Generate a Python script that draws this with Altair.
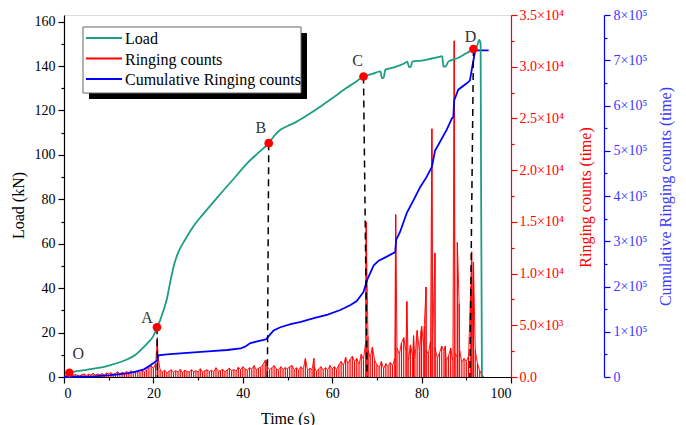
import altair as alt
import pandas as pd

FONT = "Liberation Serif"
TEAL = "#1b9e82"
RED = "#ff0000"
BLUE = "#0000ff"

# ---- Load curve (kN) ----
load_t = [1.2, 3, 5, 7, 9, 10.5, 12, 14.2, 16, 17.2, 19, 20, 20.8, 21.5, 22, 22.5, 23, 23.5, 24, 24.5,
          25, 25.5, 26, 27, 28, 29, 31,
          33.5, 35.8, 38.5, 41, 43.5, 45.8, 47, 48.4, 50, 51.4, 54.5, 57.4, 60, 63.3, 65, 67, 69, 70.8,
          71.1, 71.5, 71.9, 74, 76.3, 76.8, 77.2, 77.6, 77.9, 80, 82, 84.2, 84.6, 84.9, 85.3, 86, 88,
          90.1, 91.6, 92.4, 92.9, 93.2, 93.3, 93.5]
load_v = [1.9, 2.6, 3.2, 3.9, 4.6, 5.4, 6.3, 8.0, 10.0, 12.2, 15.9, 18.5, 22.4, 25.5, 28.5, 31.5, 35, 40,
          45, 49.5, 53, 55.8, 58, 61.5, 64.8, 68, 73,
          79, 84.3, 90.5, 96.3, 101, 105.3, 108.5, 111.3, 113, 114.3, 118, 121.8, 125.5, 130.3,
          132.5, 135.3, 136.5, 137.6, 134.6, 134.8, 138.4, 139.5, 141.4, 142, 139.5, 139.8, 142, 142.5,
          143.3, 144.3, 144.5, 139.8, 139.8, 142, 143.5, 145.9, 147.7, 149, 151.8, 150, 90, 0]

# ---- Cumulative ringing counts ----
cum_t = [0, 3, 6.8, 10.5, 14.2, 16, 17.9, 19.4, 20.5, 20.9, 21.1, 23, 26, 29.1, 33, 36.5, 39.5, 40.5,
         41.7, 43, 44.7, 45.3, 45.6, 46.9, 48.4, 50.7, 53, 55.9, 59, 61.8, 64.1, 65.5, 67, 67.8, 69.3,
         70.4, 72, 74.1, 74.3, 75.2, 76.7, 78.2, 79.7, 81, 82.3, 83, 85.6, 86.8, 87.1, 87.3, 88.2, 90.1,
         90.8, 91.2, 91.6, 92, 95]
cum_v = [0, 500, 1500, 4000, 8200, 12000, 17000, 26500, 34000, 37500, 48000, 50000, 52000, 54500, 57000,
         59700, 63000, 67000, 75000, 78000, 82000, 84000, 88000, 103000, 110000, 117000, 122000, 130000,
         138000, 148000, 159000, 168000, 188000, 214000, 247000, 257000, 265000, 276000, 303000, 321000,
         363000, 391000, 420000, 440000, 464000, 500000, 546000, 572000, 575000, 612000, 635000, 649000,
         655000, 678000, 700000, 722000, 722000]

# ---- Ringing counts: background every 0.5 s from 0 to 94 s ----
ring_bg = [0, 150, 100, 200, 120, 250, 180, 100, 220, 300, 150, 260, 200, 350, 180, 280, 240, 320, 200, 380,
           300, 420, 260, 350, 500, 300, 450, 380, 520, 400, 600, 350, 480, 550, 420, 650, 500, 700, 900, 1100,
           800, 1300, 2000, 700, 500, 650, 400, 550, 700, 450, 600, 500, 750, 400, 650, 550, 480, 700, 520, 600,
           500, 800, 450, 600, 700, 520, 650, 480, 900, 550, 620, 750, 500, 680, 850, 600, 720, 550, 950, 700,
           1000, 800, 650, 900, 750, 1100, 700, 850, 950, 1200, 1600, 1000, 700, 900, 1100, 800, 650, 1000, 750, 900,
           800, 1000, 1100, 700, 900, 650, 1000, 700, 1800, 600, 850, 700, 950, 500, 800, 1000, 650, 900, 700, 1100,
           800, 1000, 700, 1200, 1500, 1100, 1900, 1300, 1700, 2000, 1500, 1800, 1200, 2200, 1700, 3400, 2600, 1900, 2900, 1600,
           1200, 900, 1500, 800, 1300, 1000, 1400, 1100, 1800, 2800, 2200, 3300, 3800, 2500, 1500, 3100, 2000, 1700, 4500, 2500,
           4900, 3000, 2600, 2200, 3500, 4000, 2900, 1800, 2300, 3000, 2500, 1600, 2000, 2800, 1500, 2300, 1900, 2600, 1400, 1800,
           1500, 2000, 8700, 3000, 2600, 1300, 600, 200, 0]
ring_bg_t = [i * 0.5 for i in range(len(ring_bg))]
spike_t = [20.9, 45.2, 55.9, 67.6, 68.0, 74.2, 76.7, 78.2, 79.9, 80.6, 81.0, 82.3, 83.0, 85.3, 87.3, 88.0, 88.4, 91.2, 91.6]
spike_v = [3800, 1600, 1800, 15000, 3900, 15700, 7300, 4000, 4500, 4900, 8700, 24000, 12000, 3000, 32500, 13000, 7100, 12100, 11100]

# ---- Key points ----
pt_name = ["O", "A", "B", "C", "D"]
pt_t = [1.2, 20.8, 45.8, 67.0, 91.6]
pt_v = [1.9, 22.4, 105.3, 135.3, 147.7]
pt_dx = [9, -10, -8, -6, -3]
pt_dy = [-19, -9, -15, -16, -12]
dash_top_t = [20.8, 45.8, 67.0, 91.6]
dash_bot_t = [20.9, 45.5, 67.8, 90.8]
dash_v = [22.4, 105.3, 135.3, 147.7]

legend_names = ["Load", "Ringing counts", "Cumulative Ringing counts"]
legend_colors = [TEAL, RED, BLUE]

LOAD_DOM = [0, 163]
RING_DOM = [0, 35000]
CUM_DOM = [0, 800000]

load_df = pd.DataFrame({"t": load_t, "v": load_v})
cum_df = pd.DataFrame({"t": cum_t, "v": cum_v})
ring_df = pd.DataFrame({"t": ring_bg_t + spike_t, "v": ring_bg + spike_v}).sort_values("t")
ring_df["z"] = 0
pts_df = pd.DataFrame({"t": pt_t, "v": pt_v, "name": pt_name})
dash_df = pd.DataFrame({"t": dash_top_t, "tb": dash_bot_t, "v": dash_v, "z": [0] * 4})


def tick_cond(step):
    return {"condition": {"test": f"datum.value % {step} === 0", "value": 6}, "value": 3}


common_axis = dict(grid=False, labelFont=FONT, labelFontSize=14, titleFont=FONT, titleFontSize=16,
                   titleFontWeight="normal", domainWidth=1.2, tickWidth=1.2)

x_enc = alt.X("t:Q", scale=alt.Scale(domain=[0, 100], nice=False),
              axis=alt.Axis(title="Time (s)", values=list(range(0, 101, 10)),
                            labelExpr="datum.value % 20 === 0 ? datum.label : ''",
                            tickSize=tick_cond(20), labelPadding=3, titleY=41,
                            titleBaseline="middle", domainColor="black", tickColor="black",
                            labelColor="black", titleColor="black", **common_axis))

load_axis = alt.Axis(title="Load (kN)", values=list(range(0, 161, 10)),
                     labelExpr="datum.value % 20 === 0 ? datum.label : ''",
                     tickSize=tick_cond(20), labelPadding=3, titleX=-46, titleY=190,
                     titleAngle=270, titleBaseline="middle", titleAlign="center",
                     domainColor="black", tickColor="black", labelColor="black", titleColor="black",
                     **common_axis)

ring_axis = alt.Axis(orient="right", title="Ringing counts (time)", values=list(range(0, 35001, 2500)),
                     labelExpr="datum.value % 5000 !== 0 ? '' : (datum.value === 0 ? '0.0' : (datum.value < 10000 ? format(datum.value/1000, '.1f') + '×10³' : format(datum.value/10000, '.1f') + '×10⁴'))",
                     tickSize=tick_cond(5000), labelPadding=2, titleX=74, titleY=182,
                     titleAngle=270, titleBaseline="middle", titleAlign="center",
                     domainColor=RED, tickColor=RED, labelColor=RED, titleColor=RED, **common_axis)

cum_axis = alt.Axis(orient="right", offset=93, title="Cumulative Ringing counts (time)",
                    values=list(range(0, 800001, 50000)),
                    labelExpr="datum.value % 100000 !== 0 ? '' : (datum.value === 0 ? '0' : format(datum.value/100000, 'd') + '×10⁵')",
                    tickSize=tick_cond(100000), labelPadding=3, titleX=61, titleY=181,
                    titleAngle=270, titleBaseline="middle", titleAlign="center",
                    domainColor=BLUE, tickColor=BLUE, labelColor="#3a3aff", titleColor="#3a3aff",
                    **common_axis)

ring_y = alt.Y("v:Q", scale=alt.Scale(domain=RING_DOM, nice=False), axis=ring_axis)
ring = alt.Chart(ring_df).mark_rule(color=RED, strokeWidth=1.2).encode(
    x=x_enc, y=ring_y, y2="z:Q",
)
ring_line = alt.Chart(ring_df).mark_line(color=RED, strokeWidth=0.9).encode(
    x=x_enc,
    y=alt.Y("v:Q", scale=alt.Scale(domain=RING_DOM, nice=False), axis=None),
)

cum = alt.Chart(cum_df).mark_line(color=BLUE, strokeWidth=1.8).encode(
    x=x_enc,
    y=alt.Y("v:Q", scale=alt.Scale(domain=CUM_DOM, nice=False), axis=cum_axis),
)

dash = alt.Chart(dash_df).mark_rule(color="black", strokeWidth=1.5, strokeDash=[7, 5]).encode(
    x=x_enc, x2="tb:Q",
    y=alt.Y("v:Q", scale=alt.Scale(domain=LOAD_DOM, nice=False), axis=None),
    y2="z:Q",
)

load = alt.Chart(load_df).mark_line(color=TEAL, strokeWidth=1.8, interpolate="monotone").encode(
    x=x_enc,
    y=alt.Y("v:Q", scale=alt.Scale(domain=LOAD_DOM, nice=False), axis=load_axis),
)

points = alt.Chart(pts_df).mark_circle(color=RED, opacity=1, size=75).encode(
    x=x_enc,
    y=alt.Y("v:Q", scale=alt.Scale(domain=LOAD_DOM, nice=False), axis=None),
)

labels = []
for i, nm in enumerate(pt_name):
    d = pd.DataFrame({"t": [pt_t[i]], "v": [pt_v[i]], "name": [nm]})
    labels.append(
        alt.Chart(d).mark_text(font=FONT, fontSize=16, color="#333333", dx=pt_dx[i], dy=pt_dy[i]).encode(
            x=x_enc,
            y=alt.Y("v:Q", scale=alt.Scale(domain=LOAD_DOM, nice=False), axis=None),
            text="name:N",
        )
    )

one = pd.DataFrame({"k": [0]})
shadow = alt.Chart(one).mark_rect(color="black").encode(
    x=alt.value(25), x2=alt.value(243), y=alt.value(18), y2=alt.value(84))
box = alt.Chart(one).mark_rect(fill="white", stroke="#666666", strokeWidth=1).encode(
    x=alt.value(19), x2=alt.value(237), y=alt.value(12), y2=alt.value(78))
leg_layers = [shadow, box]
for i, (nm, col) in enumerate(zip(legend_names, legend_colors)):
    yy = 23 + i * 20.5
    leg_layers.append(alt.Chart(one).mark_rule(color=col, strokeWidth=1.8).encode(
        x=alt.value(22), x2=alt.value(58), y=alt.value(yy)))
    leg_layers.append(alt.Chart(pd.DataFrame({"name": [nm]})).mark_text(
        font=FONT, fontSize=16, align="left", baseline="middle", color="black").encode(
        x=alt.value(61), y=alt.value(yy + 1), text="name:N"))

chart = alt.layer(ring, ring_line, cum, dash, load, points, *labels, *leg_layers).resolve_scale(
    y="independent"
).properties(
    width=447, height=362,
    autosize=alt.AutoSizeParams(type="none"),
    padding={"left": 64, "top": 15, "right": 175, "bottom": 48},
).configure_view(stroke="black", strokeWidth=1.2).configure_axis(
    labelFont=FONT, titleFont=FONT, titleFontWeight="normal", labelFontSize=14, titleFontSize=16
).configure(background="white")

chart.save("out.html", embed_options={"renderer": "svg", "actions": False})
